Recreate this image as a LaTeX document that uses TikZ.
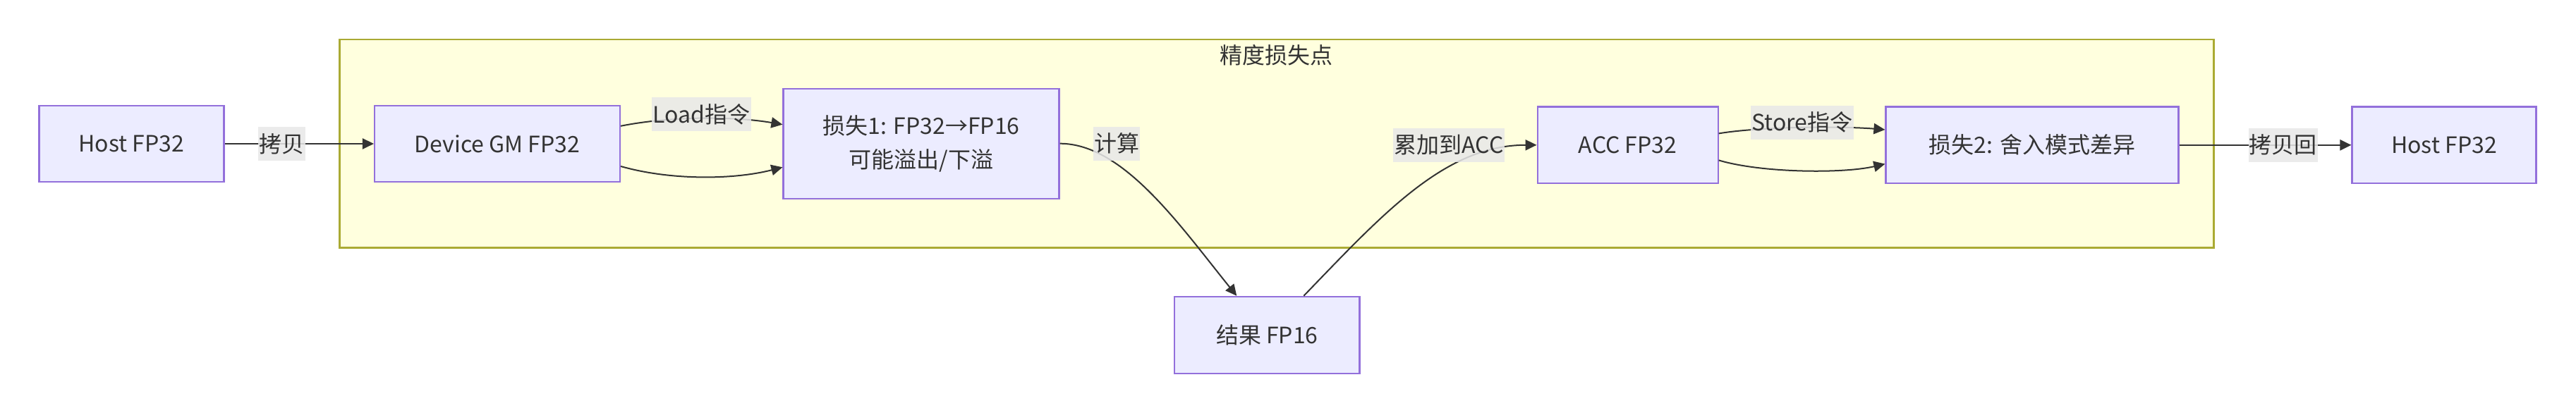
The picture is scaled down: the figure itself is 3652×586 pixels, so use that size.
\documentclass[tikz,border=0pt]{standalone}
\usepackage{fontspec}
\setmainfont{Noto Sans CJK SC}
\usetikzlibrary{arrows.meta}
\definecolor{nodefill}{HTML}{ECECFF}
\definecolor{nodedraw}{HTML}{9370DB}
\definecolor{clfill}{HTML}{FFFFDE}
\definecolor{cldraw}{HTML}{AAAA33}
\definecolor{txt}{HTML}{333333}
\definecolor{lblbg}{HTML}{E8E8E8}
\begin{document}
\begin{tikzpicture}[x=0.25pt,y=-0.25pt,
  every node/.style={font=\fontsize{8}{12}\selectfont, text=txt},
  box/.style={draw=nodedraw, fill=nodefill, line width=0.55pt, inner sep=0pt, align=center},
  lbl/.style={fill=lblbg, fill opacity=0.85, text opacity=1, inner xsep=0.3pt, inner ysep=0pt, minimum height=12pt},
  edge/.style={draw=txt, line width=0.5pt, -{Triangle[length=4pt,width=3.8pt]}},
  cluster/.style={draw=cldraw, fill=clfill, line width=0.55pt}
  ]
\useasboundingbox[fill=white] (0,0) rectangle (3652,586);
% cluster
\path[cluster] (481.5,55.7) rectangle (3138.4,351.6);
\node (title) at (1809,78) {精度损失点};
% nodes
\node[box, minimum width=65.5pt, minimum height=27pt] (hostL) at (186.5,204) {Host FP32};
\node[box, minimum width=87pt, minimum height=27pt] (gm) at (705,204) {Device GM FP32};
\node[box, minimum width=97.75pt, minimum height=39pt] (loss1) at (1306,203.7) {损失1: FP32→FP16\\可能溢出/下溢};
\node[box, minimum width=65.6pt, minimum height=27.3pt] (res) at (1796.3,475.5) {结果 FP16};
\node[box, minimum width=64pt, minimum height=27.1pt] (acc) at (2307.6,205.8) {ACC FP32};
\node[box, minimum width=103.75pt, minimum height=27.1pt] (loss2) at (2881,205.8) {损失2: 舍入模式差异};
\node[box, minimum width=65.25pt, minimum height=27.1pt] (hostR) at (3465,205.8) {Host FP32};
% edges
\draw[edge] (hostL.east) -- (gm.west);
\draw[edge] ([yshift=6.3pt]gm.east) .. controls +(70,-14) and +(-70,-12) .. ([yshift=6.75pt]loss1.west);
\draw[edge] ([yshift=-8pt]gm.east) .. controls +(70,20) and +(-70,18) .. ([yshift=-8.4pt]loss1.west);
\draw[edge] (loss1.east) .. controls +(90,0) and +(-80,-99) .. ([xshift=-10.75pt]res.north);
\draw[edge] ([xshift=13pt]res.north) .. controls +(112,-116) and +(-130,0) .. (acc.west);
\draw[edge] ([yshift=4.1pt]acc.east) .. controls +(60,-10) and +(-60,-5) .. ([yshift=5.45pt]loss2.west);
\draw[edge] ([yshift=-5.4pt]acc.east) .. controls +(60,18) and +(-60,14) .. ([yshift=-6.7pt]loss2.west);
\draw[edge] (loss2.east) -- (hostR.west);
% edge labels
\node[lbl] (l1) at (399.5,204) {拷贝};
\node[lbl] (l2) at (994.5,162) {Load指令};
\node[lbl] (l3) at (1583,203.6) {计算};
\node[lbl] (l4) at (2054,206) {累加到ACC};
\node[lbl] (l5) at (2555,173.8) {Store指令};
\node[lbl] (l6) at (3236.7,205.7) {拷贝回};
\end{tikzpicture}
\end{document}
